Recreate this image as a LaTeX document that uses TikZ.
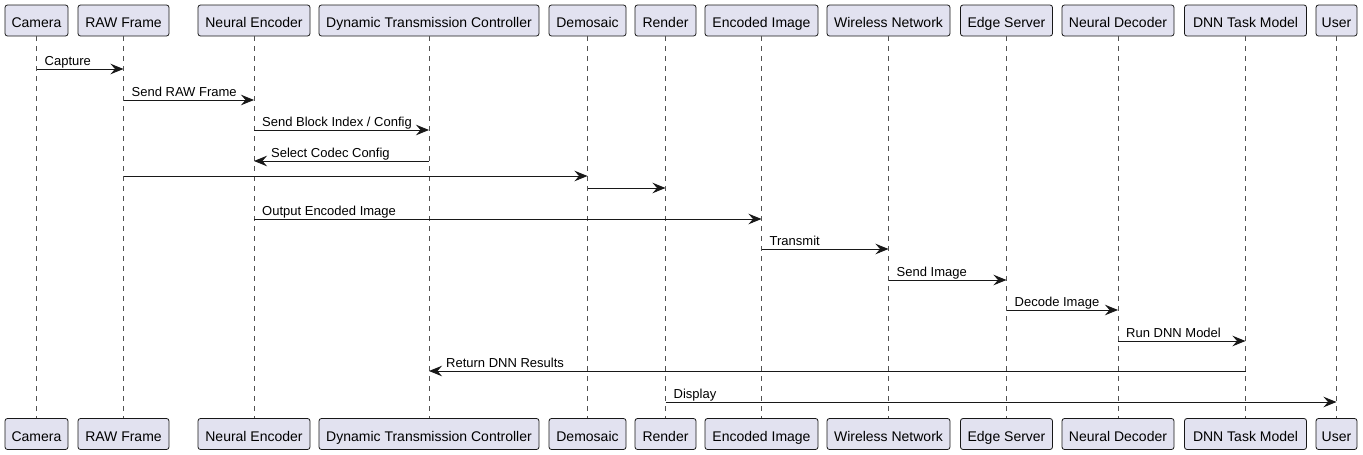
\documentclass[tikz,border=0pt]{standalone}
\usepackage{fontspec}
\setmainfont{Liberation Sans}
\usetikzlibrary{arrows.meta}
\definecolor{boxfill}{HTML}{E2E2F0}
\definecolor{ink}{HTML}{181818}
\tikzset{
  part/.style={draw=ink, fill=boxfill, line width=0.8pt, rounded corners=2.5pt,
    minimum height=31pt, inner sep=0pt, text height=14pt, text depth=0pt,
    font=\fontsize{14}{16}\selectfont, text=black},
  life/.style={draw=ink!75, line width=0.6pt, dash pattern=on 5pt off 5pt},
  msg/.style={draw=ink, line width=1pt, -{Stealth[length=13pt,width=10.5pt,inset=4.5pt]}},
  lbl/.style={anchor=base west, inner sep=0pt, font=\fontsize{13}{15}\selectfont, text=black}
}
\begin{document}
\begin{tikzpicture}[x=1pt,y=-1pt]
\useasboundingbox (0,0) rectangle (1363,455);
\foreach \n/\x/\w/\t in {
  cam/36.5/63/Camera,
  raw/123.5/91/RAW Frame,
  ne/254/112/Neural Encoder,
  dtc/429/220/Dynamic Transmission Controller,
  dem/587.5/77/Demosaic,
  ren/665.5/61/Render,
  enc/761.5/113/Encoded Image,
  wn/888.5/123/Wireless Network,
  es/1006.5/92/Edge Server,
  nd/1118/112/Neural Decoder,
  dnn/1245.5/122/DNN Task Model,
  usr/1336.5/41/User}
{
  \node[part, minimum width=\w pt] (\n T) at (\x,20.5) {\t};
  \node[part, minimum width=\w pt] (\n B) at (\x,434) {\t};
  \draw[life] (\n T.south) -- (\n B.north);
}
% right-going messages
\foreach \a/\b/\y/\t in {
  cam/raw/69/Capture,
  raw/ne/100/Send RAW Frame,
  ne/dtc/130/{Send Block Index / Config},
  raw/dem/176/{},
  dem/ren/188/{},
  ne/enc/219/Output Encoded Image,
  enc/wn/249/Transmit,
  wn/es/280/Send Image,
  es/nd/310/Decode Image,
  nd/dnn/341/Run DNN Model,
  ren/usr/402/Display}
{
  \draw[msg] (\a T |- 0,\y) -- (\b T |- 0,\y);
  \path (\a T |- 0,\y) ++(8,-4) node[lbl] (l\a\b) {\t};
}
% left-going messages
\foreach \a/\b/\y/\t in {
  dtc/ne/161/Select Codec Config,
  dnn/dtc/371/Return DNN Results}
{
  \draw[msg] (\a T |- 0,\y) -- (\b T |- 0,\y);
  \path (\b T |- 0,\y) ++(17,-4) node[lbl] (l\a\b) {\t};
}
\end{tikzpicture}
\end{document}
